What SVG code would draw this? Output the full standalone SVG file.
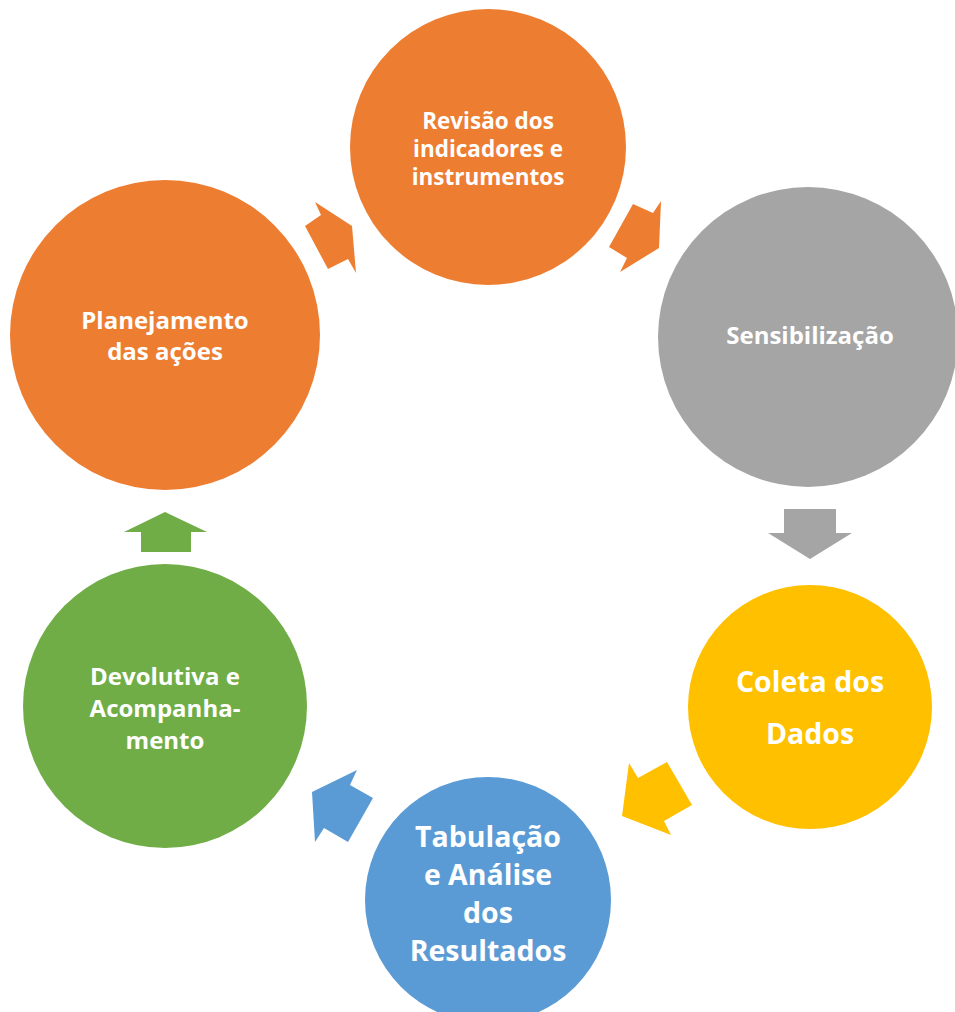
<svg xmlns="http://www.w3.org/2000/svg" width="955" height="1012" viewBox="0 0 955 1012">
<style>
.t{font-family:"Open Sans","Liberation Sans",sans-serif;font-weight:bold;fill:#fff;text-anchor:middle;dominant-baseline:central}
.s{font-size:22.5px}
.m{font-size:24px}
.l{font-size:28.5px}
</style>
<rect width="955" height="1012" fill="#fff"/>
<g id="connectors">
<polygon fill="#ED7D31" points="315,202 352,226 356,273 348,259 328,269 305,226 321,215"/>
<polygon fill="#ED7D31" points="633,204 653,213 661,201 659,248 620,272 627,258 609,247"/>
<polygon fill="#A5A5A5" points="784,509 836,509 836,533 852,533 810,559 768,533 784,533"/>
<polygon fill="#FFC000" points="629,763 638,778 667,762 692,805 664,821 671,835 622,816"/>
<polygon fill="#5B9BD5" points="357,770 350,785 373,798 348,842 324,828 315,842 312,792"/>
<polygon fill="#70AD47" points="165,512 207,532 191,532 191,552 141,552 141,532 124,532"/>
</g>
<g id="revisao">
<circle cx="488" cy="147" r="138" fill="#ED7D31"/>
<text class="t s"><tspan x="488" y="120">Revisão dos</tspan><tspan x="488" y="148">indicadores e</tspan><tspan x="488" y="176">instrumentos</tspan></text>
</g>
<g id="sensibilizacao">
<circle cx="808" cy="337" r="150" fill="#A5A5A5"/>
<text class="t m" x="810" y="334">Sensibilização</text>
</g>
<g id="coleta">
<circle cx="810" cy="707" r="122" fill="#FFC000"/>
<text class="t l"><tspan x="810" y="681">Coleta dos</tspan><tspan x="810" y="733">Dados</tspan></text>
</g>
<g id="tabulacao">
<circle cx="488" cy="900" r="123" fill="#5B9BD5"/>
<text class="t l"><tspan x="488" y="836">Tabulação</tspan><tspan x="488" y="874">e Análise</tspan><tspan x="488" y="912">dos</tspan><tspan x="488" y="950">Resultados</tspan></text>
</g>
<g id="devolutiva">
<circle cx="165" cy="706" r="142" fill="#70AD47"/>
<text class="t m"><tspan x="165" y="675">Devolutiva e</tspan><tspan x="165" y="707">Acompanha-</tspan><tspan x="165" y="739">mento</tspan></text>
</g>
<g id="planejamento">
<circle cx="165" cy="335" r="155" fill="#ED7D31"/>
<text class="t m"><tspan x="165" y="319">Planejamento</tspan><tspan x="165" y="350">das ações</tspan></text>
</g>
</svg>
